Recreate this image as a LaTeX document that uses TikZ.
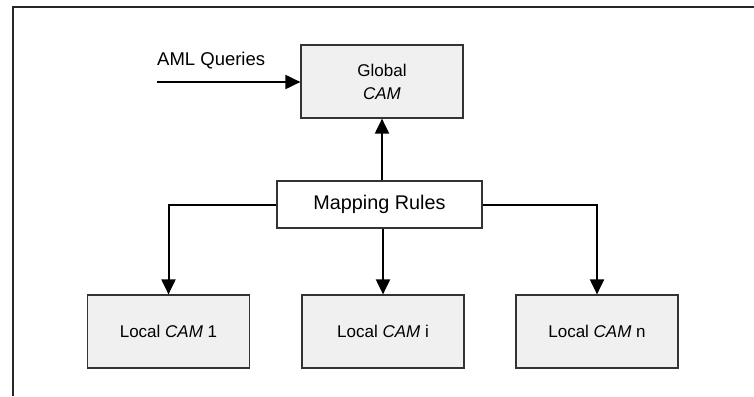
\documentclass[tikz,border=0pt]{standalone}
\usepackage{fontspec}
\setmainfont{Liberation Sans}
\usetikzlibrary{arrows.meta}
\definecolor{boxfill}{HTML}{F0F0F0}
\definecolor{boxline}{HTML}{333333}
\tikzset{
  camBox/.style={draw=boxline, line width=1.2pt, fill=boxfill, minimum width=162pt, minimum height=73pt, inner sep=0pt, font=\fontsize{17}{23}\selectfont, align=center},
  mapBox/.style={draw=boxline, line width=1.2pt, fill=white, minimum width=205pt, minimum height=47pt, inner sep=0pt, font=\fontsize{19.8}{24}\selectfont},
  conn/.style={line width=2pt, -{Triangle[length=15pt, width=14pt]}},
  plainline/.style={line width=2pt},
  frameline/.style={line width=1.4pt, draw=black!85}
}
\begin{document}
\begin{tikzpicture}[x=1pt, y=-1pt]
\useasboundingbox (0,0) rectangle (754,396);
\draw[frameline] (13,396) -- (13,7) -- (754,7);
\node[camBox] (glob) at (382,81.5) {Global\\\textit{CAM}};
\node[mapBox] (map) at (379.5,204.5) {Mapping Rules};
\node[camBox] (l1) at (168.5,331.5) {Local \textit{CAM} 1};
\node[camBox] (li) at (383,331.5) {Local \textit{CAM} i};
\node[camBox] (ln) at (597,331.5) {Local \textit{CAM} n};
\coordinate (aml) at (157,82);
\node[anchor=base west, inner sep=0pt, font=\fontsize{18.5}{22}\selectfont] (amltext) at (157,66) {AML Queries};
\draw[conn] (aml) -- (glob.west |- aml);
\draw[conn] (glob.south |- map.north) -- (glob.south);
\draw[conn] (map.west) -- (map.west -| l1.north) -- (l1.north);
\draw[conn] (map.east) -- (map.east -| ln.north) -- (ln.north);
\draw[conn] (li.north |- map.south) -- (li.north);
\end{tikzpicture}
\end{document}
